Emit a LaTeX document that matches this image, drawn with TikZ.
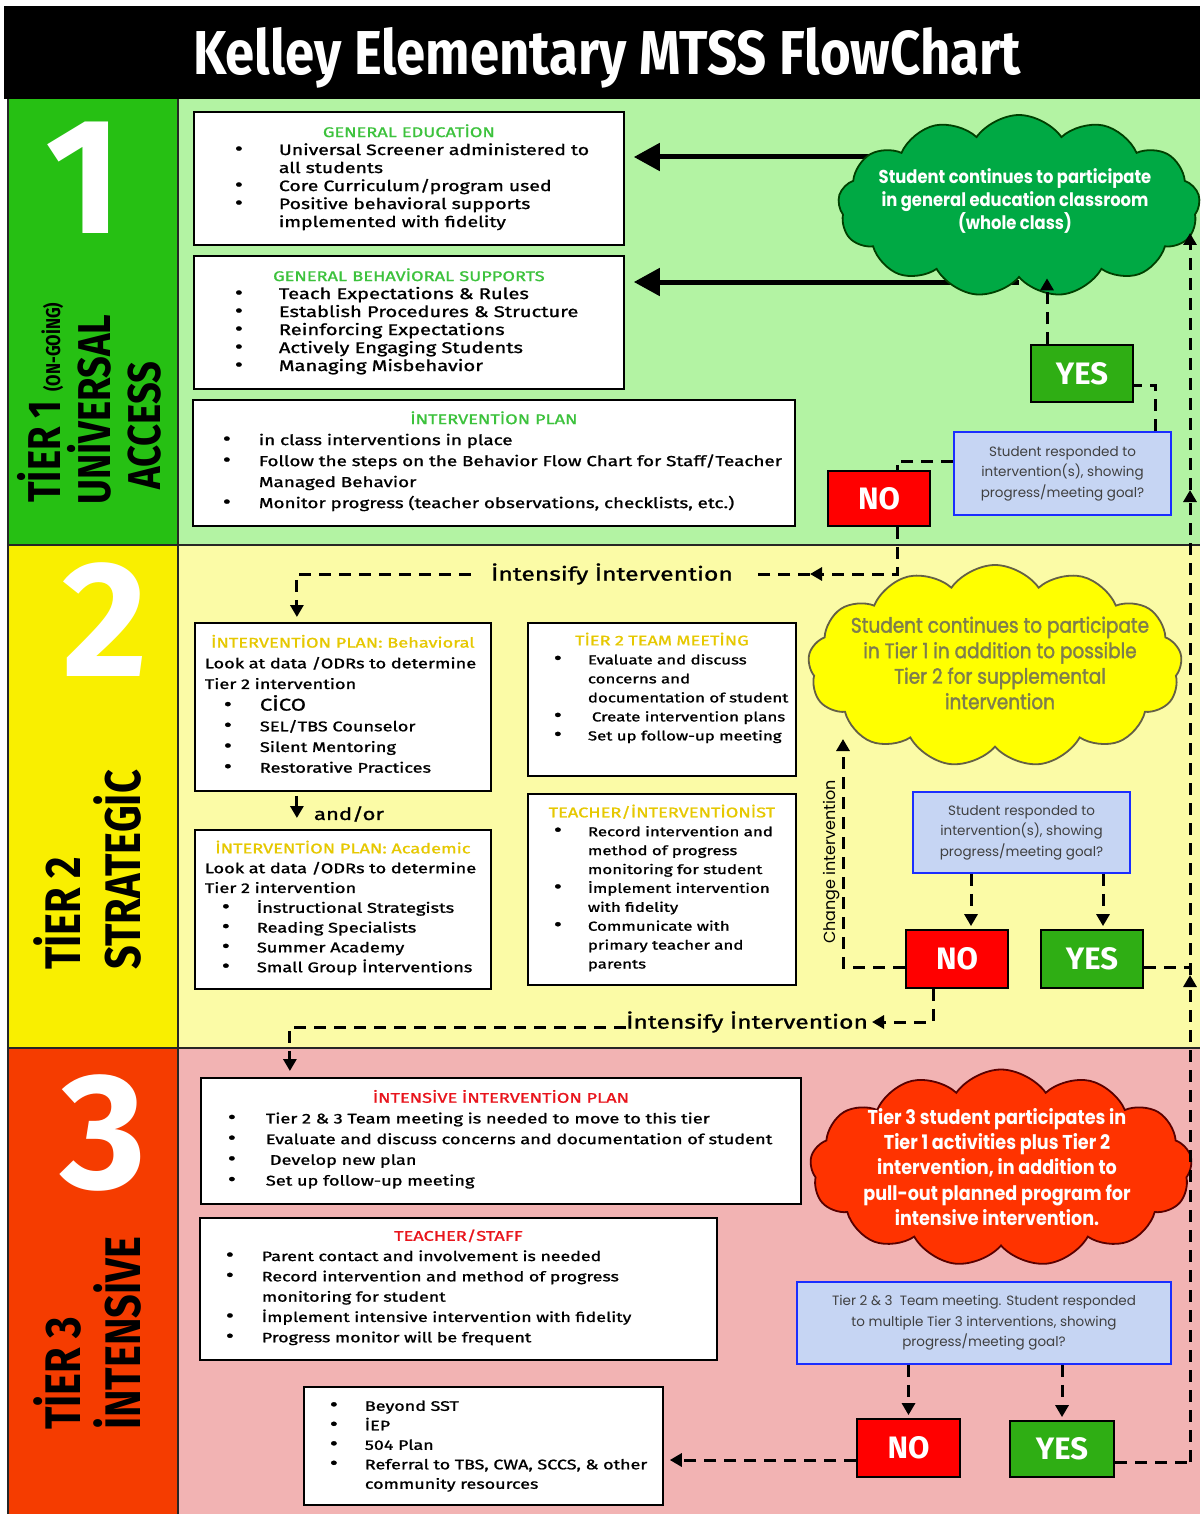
\documentclass[tikz,border=0pt]{standalone}
\usepackage{fontspec}
\setmainfont{Fira Sans}
\newfontfamily\boxfont[FakeStretch=1.3,FakeBold=1.2]{Fira Sans}
\newfontfamily\cloudfont[FakeStretch=0.88]{Poppins}
\newfontfamily\ycfont[FakeStretch=0.88,FakeBold=1.6]{Poppins}
\newfontfamily\qfont{Poppins}
\newfontfamily\labfont[FakeStretch=0.83]{Fira Sans}
\newfontfamily\titlefont[FakeStretch=0.85]{Fira Sans}
\usetikzlibrary{shapes.symbols,arrows.meta}
\setlength{\parindent}{0pt}
\definecolor{t1dark}{HTML}{26C013}
\definecolor{t1light}{HTML}{B3F3A3}
\definecolor{t2dark}{HTML}{F9EF00}
\definecolor{t2light}{HTML}{FBFBA6}
\definecolor{t3dark}{HTML}{F53C00}
\definecolor{t3light}{HTML}{F2B3B3}
\definecolor{gtitle}{HTML}{3CC23C}
\definecolor{ytitle}{HTML}{E6C800}
\definecolor{rtitle}{HTML}{E8141C}
\definecolor{yesgreen}{HTML}{2FAE14}
\definecolor{nored}{HTML}{FF0000}
\definecolor{qfill}{HTML}{C6D5F3}
\definecolor{qline}{HTML}{1A2EFF}
\definecolor{qtext}{HTML}{404040}
\definecolor{gcloudfill}{HTML}{00A944}
\definecolor{ycloudfill}{HTML}{FFFF00}
\definecolor{rcloudfill}{HTML}{FF3300}
\definecolor{ycloudtext}{HTML}{7E7D4E}
\pgfdeclarelayer{bands}
\pgfdeclarelayer{behind}
\pgfsetlayers{bands,behind,main}
\newcommand{\btitle}[2]{{\centering\color{#1}\fontsize{14}{18}\selectfont #2\par}}
\newcommand{\bu}{{\fontsize{19}{10}\selectfont\textbullet}}
\tikzset{
  boxst/.style={rectangle, draw=black, line width=1.8pt, fill=white, inner sep=0pt, anchor=north west, align=left},
  decst/.style={rectangle, draw=black, line width=1.8pt, minimum width=102pt, minimum height=57pt, text=white, font={\bfseries\fontsize{31}{31}\selectfont}, inner sep=0pt},
  yesst/.style={decst, fill=yesgreen},
  nost/.style={decst, fill=nored},
  qst/.style={rectangle, draw=qline, line width=1.6pt, fill=qfill, text=qtext, align=center, inner sep=0pt, font={\qfont\fontsize{13.5}{20.5}\selectfont}},
  cloudst/.style={cloud, cloud puffs=13, cloud puff arc=110, cloud ignores aspect, line width=1.8pt, inner sep=0pt},
  cloudtxt/.style={align=center, inner sep=0pt},
  bigarrow/.style={line width=5pt, -{Triangle[length=26pt,width=27pt]}},
  dline/.style={line width=3pt, dash pattern=on 12pt off 8pt},
  darrow/.style={dline, -{Triangle[length=12pt,width=13pt]}},
  numst/.style={text=white, inner sep=0pt, font={\bfseries\fontsize{165}{165}\selectfont}},
  tierlab/.style={inner sep=0pt, anchor=base west, rotate=90, font={\labfont\bfseries\fontsize{50}{50}\selectfont}},
  intst/.style={inner ysep=0pt, font={\boxfont\fontsize{19}{19}\selectfont}}
}
\begin{document}
\begin{tikzpicture}[x=1pt,y=-1pt]
\useasboundingbox (0,0) rectangle (1200,1514);
\begin{pgfonlayer}{bands}
\fill[white] (0,0) rectangle (1200,1514);
\fill[black] (4,6) rectangle (1200,99);
\fill[t1dark] (8,99) rectangle (178,545);
\fill[t1light] (178,99) rectangle (1200,545);
\fill[t2dark] (8,545) rectangle (178,1048);
\fill[t2light] (178,545) rectangle (1200,1048);
\fill[t3dark] (8,1048) rectangle (178,1514);
\fill[t3light] (178,1048) rectangle (1200,1514);
\draw[line width=1.2pt, black!85] (8,99) -- (8,1514) (178,99) -- (178,1514) (8,545) -- (1200,545) (8,1048) -- (1200,1048);
\end{pgfonlayer}

% title
\node[text=white, inner sep=0pt, anchor=base, font={\titlefont\bfseries\fontsize{62}{62}\selectfont}] (title) at (607,75) {Kelley Elementary MTSS FlowChart};

% left column
\node[numst] (num1) at (84,178) {1};
\node[numst] (num2) at (105,620) {2};
\node[numst] (num3) at (103,1133) {3};
\node[tierlab, font={\labfont\bfseries\fontsize{46}{46}\selectfont}] (t1a) at (60,503) {TİER 1 {\fontsize{20}{20}\selectfont (ON-GOİNG)}};
\node[tierlab, font={\labfont\bfseries\fontsize{46}{46}\selectfont}] (t1b) at (110,505) {UNİVERSAL};
\node[tierlab, font={\labfont\bfseries\fontsize{46}{46}\selectfont}] (t1c) at (160,490) {ACCESS};
\node[tierlab] (t2a) at (80,970) {TİER 2};
\node[tierlab] (t2b) at (140,970) {STRATEGİC};
\node[tierlab] (t3a) at (80,1430) {TİER 3};
\node[tierlab] (t3b) at (140,1430) {İNTENSİVE};

% tier 1 boxes
\node[boxst, text width=430pt, minimum height=133pt, font={\boxfont\fontsize{15}{18}\selectfont}] (boxA) at (193,111) {%
\btitle{gtitle}{GENERAL EDUCATİON}%
\hspace*{41pt}\begin{tabular}[t]{@{}p{44pt}@{}l@{}}
\bu & Universal Screener administered to\\
 & all students\\
\bu & Core Curriculum/program used\\
\bu & Positive behavioral supports\\
 & implemented with fidelity
\end{tabular}};

\node[boxst, text width=430pt, minimum height=133pt, font={\boxfont\fontsize{15.5}{18}\selectfont}] (boxB) at (193,255) {%
\btitle{gtitle}{GENERAL BEHAVİORAL SUPPORTS}%
\hspace*{41pt}\begin{tabular}[t]{@{}p{44pt}@{}l@{}}
\bu & Teach Expectations \& Rules\\
\bu & Establish Procedures \& Structure\\
\bu & Reinforcing Expectations\\
\bu & Actively Engaging Students\\
\bu & Managing Misbehavior
\end{tabular}};

\node[boxst, text width=602pt, minimum height=126pt, font={\boxfont\fontsize{14.5}{21}\selectfont}] (boxC) at (192,399) {%
\btitle{gtitle}{İNTERVENTİON PLAN}%
\hspace*{30pt}\begin{tabular}[t]{@{}p{36pt}@{}l@{}}
\bu & in class interventions in place\\
\bu & Follow the steps on the Behavior Flow Chart for Staff/Teacher\\
 & Managed Behavior\\
\bu & Monitor progress (teacher observations, checklists, etc.)
\end{tabular}};

% tier 2 boxes
\node[boxst, text width=296pt, minimum height=168pt, font={\boxfont\fontsize{14}{20.7}\selectfont}] (boxD) at (194,622) {%
\btitle{ytitle}{İNTERVENTİON PLAN: Behavioral}%
\hspace*{10pt}\begin{tabular}[t]{@{}p{19pt}@{}p{36pt}@{}l@{}}
\multicolumn{3}{@{}l@{}}{Look at data /ODRs to determine}\\
\multicolumn{3}{@{}l@{}}{Tier 2 intervention}\\
 & \bu & {\fontsize{17}{17}\selectfont CİCO}\\
 & \bu & SEL/TBS Counselor\\
 & \bu & Silent Mentoring\\
 & \bu & Restorative Practices
\end{tabular}};

\node[boxst, text width=296pt, minimum height=159pt, font={\boxfont\fontsize{14}{19.8}\selectfont}] (boxE) at (194,829) {%
\btitle{ytitle}{İNTERVENTİON PLAN: Academic}%
\hspace*{10pt}\begin{tabular}[t]{@{}p{17pt}@{}p{35pt}@{}l@{}}
\multicolumn{3}{@{}l@{}}{Look at data /ODRs to determine}\\
\multicolumn{3}{@{}l@{}}{Tier 2 intervention}\\
 & \bu & İnstructional Strategists\\
 & \bu & Reading Specialists\\
 & \bu & Summer Academy\\
 & \bu & Small Group İnterventions
\end{tabular}};

\node[boxst, text width=268pt, minimum height=153pt, font={\boxfont\fontsize{13}{19}\selectfont}] (boxF) at (527,622) {%
\btitle{ytitle}{TİER 2 TEAM MEETİNG}%
\hspace*{26pt}\begin{tabular}[t]{@{}p{34pt}@{}l@{}}
\bu & Evaluate and discuss\\
 & concerns and\\
 & documentation of student\\
\bu & \hspace{4pt}Create intervention plans\\
\bu & Set up follow-up meeting
\end{tabular}\par\rule{0pt}{19pt}};

\node[boxst, text width=268pt, minimum height=191pt, font={\boxfont\fontsize{13}{18.9}\selectfont}] (boxG) at (527,793) {%
\btitle{ytitle}{TEACHER/İNTERVENTİONİST}%
\hspace*{26pt}\begin{tabular}[t]{@{}p{34pt}@{}l@{}}
\bu & Record intervention and\\
 & method of progress\\
 & monitoring for student\\
\bu & İmplement intervention\\
 & with fidelity\\
\bu & Communicate with\\
 & primary teacher and\\
 & parents
\end{tabular}};

% tier 3 boxes
\node[boxst, text width=600pt, minimum height=126pt, font={\boxfont\fontsize{14}{20.7}\selectfont}] (boxH) at (200,1077) {%
\btitle{rtitle}{İNTENSİVE İNTERVENTİON PLAN}%
\hspace*{27pt}\begin{tabular}[t]{@{}p{38pt}@{}l@{}}
\bu & Tier 2 \& 3 Team meeting is needed to move to this tier\\
\bu & Evaluate and discuss concerns and documentation of student\\
\bu & \hspace{4pt}Develop new plan\\
\bu & Set up follow-up meeting
\end{tabular}};

\node[boxst, text width=517pt, minimum height=142pt, font={\boxfont\fontsize{13.7}{20.3}\selectfont}] (boxI) at (199,1217) {%
\btitle{rtitle}{TEACHER/STAFF}%
\hspace*{26pt}\begin{tabular}[t]{@{}p{36pt}@{}l@{}}
\bu & Parent contact and involvement is needed\\
\bu & Record intervention and method of progress\\
 & monitoring for student\\
\bu & İmplement intensive intervention with fidelity\\
\bu & Progress monitor will be frequent
\end{tabular}};

\node[boxst, text width=359pt, minimum height=118pt, font={\boxfont\fontsize{13.8}{19.5}\selectfont}] (boxJ) at (303,1386) {%
\hspace*{26pt}\begin{tabular}[t]{@{}p{35pt}@{}l@{}}
\bu & Beyond SST\\
\bu & İEP\\
\bu & 504 Plan\\
\bu & Referral to TBS, CWA, SCCS, \& other\\
 & community resources
\end{tabular}};

% clouds
\node[cloudst, fill=gcloudfill, draw=black!75!green, minimum width=362pt, minimum height=182pt] (gcloud) at (1019,206) {};
\node[cloudtxt, text=white, font={\cloudfont\bfseries\fontsize{18.6}{23}\selectfont}] (gcloudtxt) at (1015,201) {Student continues to participate\\in general education classroom\\(whole class)};
\node[cloudst, fill=ycloudfill, draw=black!70!yellow, minimum width=374pt, minimum height=202pt] (ycloud) at (995,666) {};
\node[cloudtxt, text=ycloudtext, font={\ycfont\fontsize{21}{25.5}\selectfont}] (ycloudtxt) at (1000,663) {Student continues to participate\\in Tier 1 in addition to possible\\Tier 2 for supplemental\\intervention};
\node[cloudst, fill=rcloudfill, draw=black!65!red, minimum width=382pt, minimum height=197pt] (rcloud) at (1001,1168) {};
\node[cloudtxt, text=white, font={\cloudfont\bfseries\fontsize{20}{25.2}\selectfont}] (rcloudtxt) at (997,1167) {Tier 3 student participates in\\Tier 1 activities plus Tier 2\\intervention, in addition to\\pull-out planned program for\\intensive intervention.};

% question boxes
\node[qst, minimum width=217pt, minimum height=83pt] (q1) at (1062.5,473.5) {Student responded to\\intervention(s), showing\\progress/meeting goal?};
\node[qst, minimum width=217pt, minimum height=81pt] (q2) at (1021.5,832.5) {Student responded to\\intervention(s), showing\\progress/meeting goal?};
\node[qst, minimum width=374pt, minimum height=82pt] (q3) at (984,1323) {Tier 2 \& 3\ \ Team meeting. Student responded\\to multiple Tier 3 interventions, showing\\progress/meeting goal?};

% yes / no
\node[yesst] (yes1) at (1082,373.5) {YES};
\node[nost, minimum height=55pt] (no1) at (879,498.5) {NO};
\node[nost, minimum height=58pt] (no2) at (957,959) {NO};
\node[yesst, minimum height=58pt] (yes2) at (1092,959) {YES};
\node[nost, minimum width=103pt, minimum height=58pt] (no3) at (908.5,1448) {NO};
\node[yesst, minimum width=104pt, minimum height=56pt] (yes3) at (1062,1449) {YES};

% labels
\node[intst, inner xsep=20pt] (intens1) at (612,574) {İntensify İntervention};
\node[intst, inner xsep=0pt, anchor=west] (intens2) at (626,1022) {İntensify İntervention};
\node[inner sep=0pt, font={\boxfont\fontsize{17}{17}\selectfont}] (andor) at (349,814) {and/or};
\node[inner sep=0pt, rotate=90, font={\qfont\fontsize{16}{16}\selectfont}] (chg) at (832,862) {Change intervention};

% big arrows behind the green cloud
\begin{pgfonlayer}{behind}
\coordinate (a1) at (0,157);
\coordinate (a2) at (0,282);
\draw[bigarrow, shorten >=9pt] (gcloud.center |- a1) -- (boxA.east |- a1);
\draw[bigarrow, shorten >=9pt] (gcloud.center |- a2) -- (boxB.east |- a2);
\end{pgfonlayer}

% tier 1 connectors
\coordinate (y1t) at ([xshift=-35pt]yes1.north);
\draw[darrow] (y1t) -- (y1t |- gcloud.south);
\coordinate (q1t) at ([xshift=-16pt]q1.north east);
\draw[dline] (q1t) |- ([yshift=-12pt]yes1.east);
\draw[dline] ([yshift=12pt]q1.west) -| ([xshift=18pt]no1.north);
\coordinate (c1) at (810,574);
\draw[darrow] ([xshift=18pt]no1.south) |- (c1);
\draw[dline] (c1) -- (intens1.east);
\draw[darrow, shorten >=5pt] (intens1.west) -| ([xshift=-46pt]boxD.north);
\draw[darrow, shorten <=4pt, shorten >=11pt] ([xshift=-46pt]boxD.south) -- ([xshift=-46pt]boxE.north);

% tier 2 connectors
\coordinate (n2t) at ([xshift=14pt]no2.north);
\coordinate (y2t) at ([xshift=11pt]yes2.north);
\draw[darrow, shorten >=3pt] (n2t |- q2.south) -- (n2t);
\draw[darrow, shorten >=3pt] (y2t |- q2.south) -- (y2t);
\coordinate (ci) at (843,739);
\draw[darrow] ([yshift=-8pt]no2.west) -| (ci);
\coordinate (c2) at (872,1022);
\draw[darrow] ([xshift=-24pt]no2.south) |- (c2);
\draw[darrow, shorten >=6pt] ([yshift=-5pt]intens2.west) -| ([xshift=-211pt]boxH.north);
\coordinate (r2j) at (1190,967);
\draw[dline] ([yshift=-8pt]yes2.east) -- (r2j);

% tier 3 connectors
\draw[darrow, shorten >=3pt] (no3.north |- q3.south) -- (no3.north);
\draw[darrow, shorten >=3pt] (yes3.north |- q3.south) -- (yes3.north);
\coordinate (n3l) at ([yshift=-12pt]no3.west);
\draw[darrow, shorten >=6pt] (n3l) -- (n3l -| boxJ.east);
\coordinate (r3) at (1190,1462);
\coordinate (r2) at (1190,975);
\coordinate (r1) at (1190,490);
\coordinate (r0) at (1190,233);
\draw[dline] ([yshift=-13pt]yes3.east) -- (r3);
\draw[darrow] (r3) -- (r2);
\draw[darrow] (r2) -- (r1);
\draw[darrow] (r1) -- (r0);
\end{tikzpicture}
\end{document}
